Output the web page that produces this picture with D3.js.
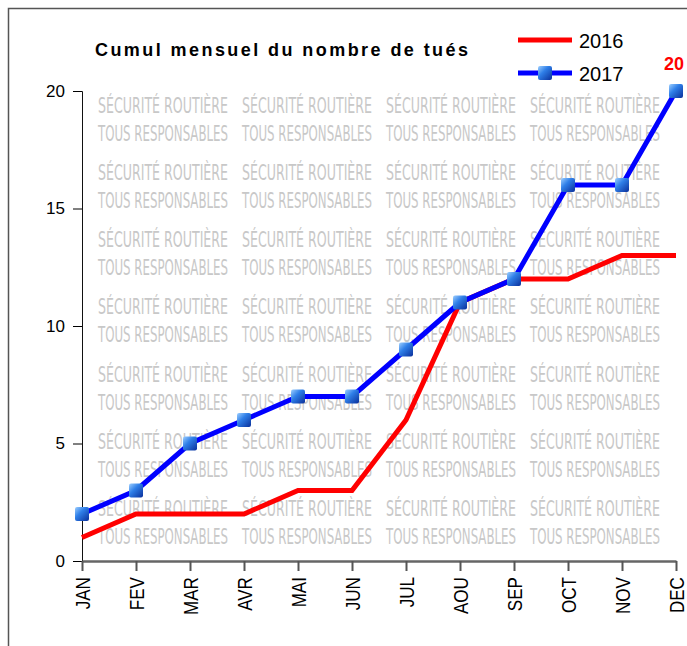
<!DOCTYPE html>
<html lang="fr">
<head>
    <meta charset="UTF-8">
    <title>Cumul mensuel du nombre de tués</title>
    <style>
        body { margin: 0; background: #fff; }
        svg text { font-family: 'Liberation Sans', Arial, sans-serif; }
    </style>
    <script src="https://d3js.org/d3.v7.min.js"></script>
</head>
<body>
    <svg id="chart" width="687" height="646"></svg>
    <script>
        // data
        let months = ["JAN", "FEV", "MAR", "AVR", "MAI", "JUN", "JUL", "AOU", "SEP", "OCT", "NOV", "DEC"];
        let deaths2016 = [1, 2, 2, 2, 3, 3, 6, 11, 12, 12, 13, 13];
        let deaths2017 = [2, 3, 5, 6, 7, 7, 9, 11, 12, 16, 16, 20];
        let yTicks = [0, 5, 10, 15, 20];

        let svg = d3.select("#chart");

        let x = d3.scalePoint().domain(months).range([82, 676]);
        let y = d3.scaleLinear().domain([0, 20]).range([561, 91]);

        // outer frame (only top and left are inside the picture)
        svg.append("path")
            .attr("d", "M8.5,646V8.5H687")
            .attr("fill", "none")
            .attr("stroke", "#555")
            .attr("stroke-width", 1.5);

        let defs = svg.append("defs");
        defs.append("clipPath").attr("id", "plotClip")
            .append("rect")
            .attr("x", 82).attr("y", 91)
            .attr("width", 594).attr("height", 470);

        let grad = defs.append("linearGradient")
            .attr("id", "markerGrad")
            .attr("x1", "0").attr("y1", "0")
            .attr("x2", "1").attr("y2", "1");
        grad.append("stop").attr("offset", "0%").attr("stop-color", "#9fd0ff");
        grad.append("stop").attr("offset", "40%").attr("stop-color", "#2f7fe8");
        grad.append("stop").attr("offset", "100%").attr("stop-color", "#0a2f9a");

        // watermark tiles (tall narrow text, stretched vertically)
        let tileW = 144, tileH = 470 / 7;
        let wm = svg.append("g").attr("clip-path", "url(#plotClip)");
        function wmText(tx, ty, str) {
            wm.append("text")
                .attr("transform", "translate(" + tx + "," + ty + ") scale(1,1.5)")
                .attr("textLength", 130)
                .attr("lengthAdjust", "spacingAndGlyphs")
                .style("font-family", "'Liberation Sans Narrow', 'DejaVu Sans Condensed', sans-serif")
                .style("font-size", "14px")
                .attr("fill", "#c8c8c8")
                .text(str);
        }
        d3.range(4).forEach(function(c) {
            d3.range(7).forEach(function(r) {
                let tx = 98 + c * tileW, ty = 91 + r * tileH;
                wmText(tx, ty + 22, "SÉCURITÉ  ROUTIÈRE");
                wmText(tx, ty + 50, "TOUS RESPONSABLES");
            });
        });

        // axes
        let yAxis = svg.append("g")
            .attr("transform", "translate(82,0)")
            .call(d3.axisLeft(y).tickValues(yTicks).tickSize(9).tickPadding(8));
        yAxis.select(".domain").attr("stroke", "#111");
        yAxis.selectAll("text").style("font-size", "17px").attr("fill", "#000")
            .style("font-family", "'Liberation Sans', Arial, sans-serif");

        let xAxis = svg.append("g")
            .attr("transform", "translate(0,561)")
            .call(d3.axisBottom(x).tickSize(10).tickSizeOuter(0));
        xAxis.select(".domain").attr("stroke", "#666").attr("stroke-width", 2.5);
        xAxis.selectAll(".tick line").attr("stroke", "#555").attr("stroke-width", 2);
        xAxis.selectAll("text")
            .style("font-size", "20px")
            .style("font-family", "'Liberation Sans', Arial, sans-serif")
            .attr("fill", "#000")
            .attr("transform", "rotate(-90) scale(0.85,1)")
            .attr("text-anchor", "end")
            .attr("x", -19)
            .attr("y", 0)
            .attr("dy", "0.35em");

        // lines
        let line = d3.line()
            .x((d, i) => x(months[i]))
            .y(d => y(d));

        svg.append("path")
            .datum(deaths2016)
            .attr("d", line)
            .attr("fill", "none")
            .attr("stroke", "#ff0000")
            .attr("stroke-width", 5);

        svg.append("path")
            .datum(deaths2017)
            .attr("d", line)
            .attr("fill", "none")
            .attr("stroke", "#0000ff")
            .attr("stroke-width", 5);

        svg.selectAll(".marker")
            .data(deaths2017)
            .enter()
            .append("rect")
            .attr("class", "marker")
            .attr("x", (d, i) => x(months[i]) - 7)
            .attr("y", d => y(d) - 7)
            .attr("width", 14)
            .attr("height", 14)
            .attr("rx", 2)
            .attr("fill", "url(#markerGrad)");

        // last value label
        svg.append("text")
            .attr("x", 674)
            .attr("y", 70)
            .attr("text-anchor", "middle")
            .style("font-size", "18px")
            .style("font-weight", "bold")
            .attr("fill", "#ff0000")
            .text(deaths2017[deaths2017.length - 1]);

        // title
        svg.append("text")
            .attr("x", 95)
            .attr("y", 56)
            .attr("textLength", 373)
            .attr("lengthAdjust", "spacing")
            .style("font-size", "18px")
            .style("font-weight", "bold")
            .attr("fill", "#000")
            .text("Cumul mensuel du nombre de tués");

        // legend
        let legend = svg.append("g");
        legend.append("line")
            .attr("x1", 518).attr("x2", 572).attr("y1", 40).attr("y2", 40)
            .attr("stroke", "#ff0000").attr("stroke-width", 5);
        legend.append("text")
            .attr("x", 579).attr("y", 48)
            .style("font-size", "20px").attr("fill", "#000")
            .text("2016");
        legend.append("line")
            .attr("x1", 518).attr("x2", 572).attr("y1", 73).attr("y2", 73)
            .attr("stroke", "#0000ff").attr("stroke-width", 5);
        legend.append("rect")
            .attr("x", 538).attr("y", 66).attr("width", 14).attr("height", 14).attr("rx", 2)
            .attr("fill", "url(#markerGrad)");
        legend.append("text")
            .attr("x", 579).attr("y", 81)
            .style("font-size", "20px").attr("fill", "#000")
            .text("2017");
    </script>
</body>
</html>
